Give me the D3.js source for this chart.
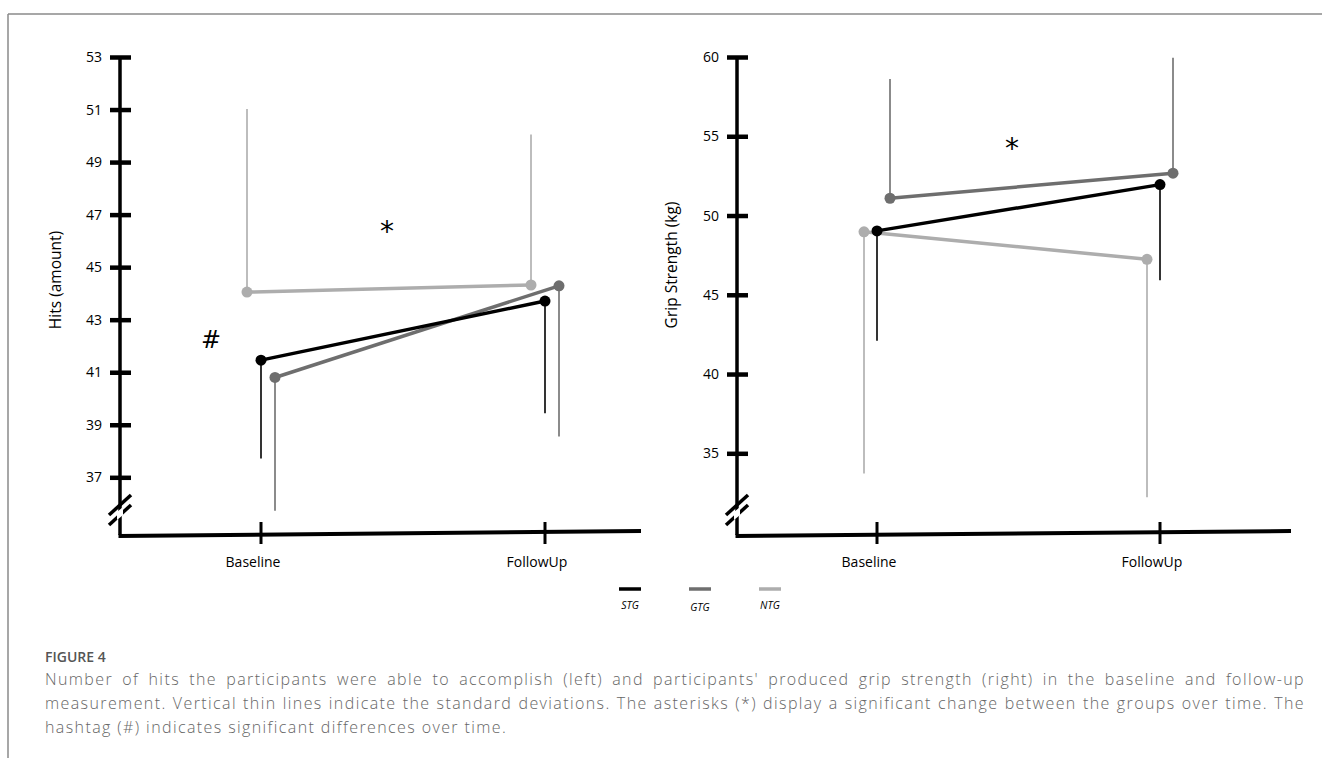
<!DOCTYPE html>
<html>
<head>
<meta charset="utf-8">
<script src="https://cdn.jsdelivr.net/npm/d3@7"></script>
<style>
  body { margin: 0; background: #fff; }
  #wrap { position: relative; width: 1322px; height: 758px; overflow: hidden; }
  #fig-label { position: absolute; left: 45px; top: 647px; font: 600 14px/20px "Open Sans", sans-serif; color: #555; }
  #caption { position: absolute; left: 45px; top: 667px; width: 1260px; font: 300 16px/24px "Open Sans", sans-serif; color: #666; letter-spacing: 1.4px; }
  #caption div { white-space: nowrap; }
  #caption div.j { text-align: justify; text-align-last: justify; }
</style>
</head>
<body>
<div id="wrap">
  <svg id="chart" width="1322" height="758"></svg>
  <div id="fig-label">FIGURE 4</div>
  <div id="caption">
    <div class="j">Number of hits the participants were able to accomplish (left) and participants' produced grip strength (right) in the baseline and follow-up</div>
    <div class="j">measurement. Vertical thin lines indicate the standard deviations. The asterisks (*) display a significant change between the groups over time. The</div>
    <div>hashtag (#) indicates significant differences over time.</div>
  </div>
</div>
<script>
var times = ["Baseline", "FollowUp"];
var groups = ["STG", "GTG", "NTG"];
var groupColors = ["#000000", "#6e6e6e", "#adadad"];

// hits (amount), means and standard deviations
var stgHits = [41.46, 43.71];
var gtgHits = [40.8, 44.29];
var ntgHits = [44.05, 44.32];
var stgHitsSD = [3.74, 4.27];
var gtgHitsSD = [5.07, 5.74];
var ntgHitsSD = [6.97, 5.73];
var hitsSDdir = [-1, -1, 1];
var hitsTicks = [37, 39, 41, 43, 45, 47, 49, 51, 53];

// grip strength (kg)
var stgGrip = [49.03, 51.95];
var gtgGrip = [51.09, 52.67];
var ntgGrip = [48.97, 47.24];
var stgGripSD = [6.93, 6.03];
var gtgGripSD = [7.52, 7.29];
var ntgGripSD = [15.24, 15.02];
var gripSDdir = [-1, 1, -1];
var gripTicks = [35, 40, 45, 50, 55, 60];

var svg = d3.select("#chart");

// figure frame
svg.append("line").attr("x1", 8).attr("y1", 14).attr("x2", 1322).attr("y2", 14)
    .attr("stroke", "#8a8a8a").attr("stroke-width", 1.5);
svg.append("line").attr("x1", 8).attr("y1", 14).attr("x2", 8).attr("y2", 758)
    .attr("stroke", "#8a8a8a").attr("stroke-width", 1.5);

function drawPanel(opt) {
    var g = svg.append("g");
    var axisY = 535;
    var y = d3.scaleLinear().domain(opt.yDomain).range([opt.yBottom, 57]);
    var x = d3.scalePoint().domain(times).range(opt.xRange);
    var offsets = [0, opt.offset, -opt.offset];

    // y axis
    var ya = g.append("g").attr("transform", "translate(" + opt.x0 + ",0)")
        .call(d3.axisLeft(y).tickValues(opt.ticks).tickSize(0).tickPadding(18));
    ya.select(".domain").remove();
    ya.selectAll(".tick text").attr("font-family", "Open Sans, sans-serif")
        .attr("font-size", 14).attr("fill", "#000");
    ya.selectAll(".tick").append("line").attr("x1", -10).attr("x2", 11)
        .attr("stroke", "#000").attr("stroke-width", 4.5);
    g.append("line").attr("x1", opt.x0).attr("x2", opt.x0).attr("y1", 57).attr("y2", axisY)
        .attr("stroke", "#000").attr("stroke-width", 3.5);

    // axis break
    [504, 514].forEach(function(by) {
        g.append("line").attr("x1", opt.x0 - 11).attr("y1", by + 11)
            .attr("x2", opt.x0 + 11).attr("y2", by - 9)
            .attr("stroke", "#000").attr("stroke-width", 3.5);
    });
    g.append("polygon")
        .attr("points", [[opt.x0 - 3, 512], [opt.x0 + 3, 507], [opt.x0 + 3, 515], [opt.x0 - 3, 520]].join(" "))
        .attr("fill", "#fff");

    // x axis
    g.append("line").attr("x1", opt.x0 - 1.5).attr("x2", opt.xEnd).attr("y1", axisY + 1).attr("y2", axisY - 4)
        .attr("stroke", "#000").attr("stroke-width", 4);
    times.forEach(function(t) {
        g.append("line").attr("x1", x(t)).attr("x2", x(t)).attr("y1", 522).attr("y2", 544)
            .attr("stroke", "#000").attr("stroke-width", 3);
        g.append("text").attr("x", x(t) - 8).attr("y", 567).attr("text-anchor", "middle")
            .attr("font-family", "Open Sans, sans-serif").attr("font-size", 14).text(t);
    });

    // y label
    g.append("text").attr("transform", "translate(" + opt.labelX + "," + opt.labelY + ") rotate(-90)")
        .attr("text-anchor", "middle").attr("font-family", "Open Sans, sans-serif")
        .attr("font-size", 15.5).text(opt.label);

    // standard deviation lines
    opt.series.forEach(function(s, i) {
        g.selectAll(null).data(s.mean).enter().append("line")
            .attr("x1", function(d, j) { return x(times[j]) + offsets[i]; })
            .attr("x2", function(d, j) { return x(times[j]) + offsets[i]; })
            .attr("y1", function(d) { return y(d); })
            .attr("y2", function(d, j) { return y(d + opt.sdDir[i] * s.sd[j]); })
            .attr("stroke", groupColors[i]).attr("stroke-width", 1.6);
    });

    // mean lines, drawn NTG first so STG sits on top
    [2, 1, 0].forEach(function(i) {
        var s = opt.series[i];
        var line = d3.line()
            .x(function(d, j) { return x(times[j]) + offsets[i]; })
            .y(function(d) { return y(d); });
        g.append("path").datum(s.mean).attr("d", line).attr("fill", "none")
            .attr("stroke", groupColors[i]).attr("stroke-width", 3.5);
        g.selectAll(null).data(s.mean).enter().append("circle")
            .attr("cx", function(d, j) { return x(times[j]) + offsets[i]; })
            .attr("cy", function(d) { return y(d); })
            .attr("r", 5.5).attr("fill", groupColors[i]);
    });

    opt.marks.forEach(function(m) {
        g.append("text").attr("x", m.x).attr("y", m.y).attr("text-anchor", "middle")
            .attr("font-family", "DejaVu Sans, sans-serif").attr("font-size", m.size).text(m.t);
    });
}

drawPanel({
    x0: 120, xEnd: 641, xRange: [261, 545], offset: 14,
    yDomain: [37, 53], yBottom: 477.3, ticks: hitsTicks,
    label: "Hits (amount)", labelX: 61, labelY: 280,
    series: [{ mean: stgHits, sd: stgHitsSD }, { mean: gtgHits, sd: gtgHitsSD }, { mean: ntgHits, sd: ntgHitsSD }],
    sdDir: hitsSDdir,
    marks: [{ t: "*", x: 387, y: 241, size: 28 }, { t: "#", x: 211, y: 348, size: 24 }]
});

drawPanel({
    x0: 737, xEnd: 1291, xRange: [877, 1160], offset: 13,
    yDomain: [35, 60], yBottom: 453.3, ticks: gripTicks,
    label: "Grip Strength (kg)", labelX: 677, labelY: 265,
    series: [{ mean: stgGrip, sd: stgGripSD }, { mean: gtgGrip, sd: gtgGripSD }, { mean: ntgGrip, sd: ntgGripSD }],
    sdDir: gripSDdir,
    marks: [{ t: "*", x: 1012, y: 158, size: 28 }]
});

// legend
var legend = svg.append("g");
legend.selectAll("line").data(groups).enter().append("line")
    .attr("x1", function(d, i) { return 619 + i * 70; })
    .attr("x2", function(d, i) { return 641 + i * 70; })
    .attr("y1", 589).attr("y2", 589)
    .attr("stroke", function(d, i) { return groupColors[i]; })
    .attr("stroke-width", 3.5);
legend.selectAll("text").data(groups).enter().append("text")
    .attr("x", function(d, i) { return 630 + i * 70; })
    .attr("y", function(d, i) { return i === 1 ? 611 : 609; })
    .attr("text-anchor", "middle").attr("font-family", "Open Sans, sans-serif")
    .attr("font-style", "italic").attr("font-size", 10.5).text(function(d) { return d; });
</script>
</body>
</html>
